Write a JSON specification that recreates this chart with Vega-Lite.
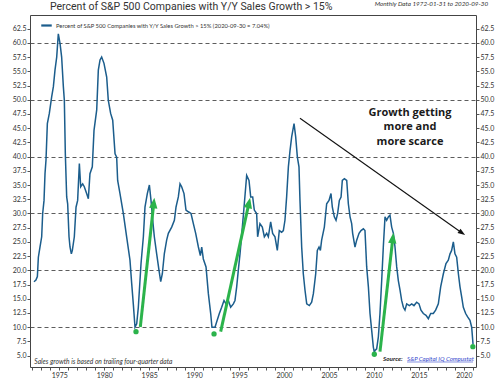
{
  "$schema": "https://vega.github.io/schema/vega-lite/v6.json",
  "width": 446,
  "height": 352,
  "autosize": {"type": "none"},
  "padding": {"left": 30, "top": 15, "right": 24, "bottom": 15},
  "background": "white",
  "config": {
    "view": {"stroke": "#444444", "strokeWidth": 1},
    "axis": {"labelFont": "Lato", "labelFontSize": 7, "labelColor": "#333333", "tickColor": "#555555", "tickSize": 3, "domain": false, "title": null},
    "axisX": {"labelOverlap": false, "labelFlush": false, "labelPadding": 1, "grid": false}
  },
  "datasets": {
    "main": [
      {"t": 1972.18, "v": 18.0}, {"t": 1972.4, "v": 18.3}, {"t": 1972.56, "v": 18.9}, {"t": 1972.67, "v": 22.3}, {"t": 1972.85, "v": 24.1},
      {"t": 1973.04, "v": 25.9}, {"t": 1973.15, "v": 30.0}, {"t": 1973.3, "v": 32.3}, {"t": 1973.41, "v": 37.0}, {"t": 1973.52, "v": 39.4},
      {"t": 1973.67, "v": 45.8}, {"t": 1973.89, "v": 47.6}, {"t": 1974.15, "v": 50.5}, {"t": 1974.34, "v": 52.3}, {"t": 1974.52, "v": 55.2},
      {"t": 1974.71, "v": 57.5}, {"t": 1974.89, "v": 61.6}, {"t": 1975.08, "v": 59.9}, {"t": 1975.26, "v": 57.5}, {"t": 1975.45, "v": 52.3},
      {"t": 1975.56, "v": 49.9}, {"t": 1975.67, "v": 40.5}, {"t": 1975.82, "v": 32.9}, {"t": 1975.93, "v": 31.7}, {"t": 1976.08, "v": 25.9},
      {"t": 1976.19, "v": 24.1}, {"t": 1976.34, "v": 22.9}, {"t": 1976.45, "v": 23.5}, {"t": 1976.67, "v": 25.9}, {"t": 1976.86, "v": 31.1},
      {"t": 1977.04, "v": 32.3}, {"t": 1977.23, "v": 38.8}, {"t": 1977.38, "v": 34.7}, {"t": 1977.6, "v": 35.2}, {"t": 1977.78, "v": 34.7},
      {"t": 1978.04, "v": 33.5}, {"t": 1978.23, "v": 32.6}, {"t": 1978.41, "v": 37.0}, {"t": 1978.67, "v": 38.2}, {"t": 1978.86, "v": 44.6},
      {"t": 1979.16, "v": 48.2}, {"t": 1979.34, "v": 55.2}, {"t": 1979.53, "v": 57.0}, {"t": 1979.71, "v": 57.5}, {"t": 1979.97, "v": 56.4},
      {"t": 1980.27, "v": 54.0}, {"t": 1980.45, "v": 49.9}, {"t": 1980.71, "v": 47.6}, {"t": 1980.94, "v": 46.4}, {"t": 1981.2, "v": 40.5},
      {"t": 1981.38, "v": 39.9}, {"t": 1981.49, "v": 35.8}, {"t": 1981.75, "v": 33.5}, {"t": 1982.12, "v": 30.0}, {"t": 1982.49, "v": 25.9},
      {"t": 1982.86, "v": 21.8}, {"t": 1983.05, "v": 17.7}, {"t": 1983.23, "v": 14.1}, {"t": 1983.42, "v": 10.0}, {"t": 1983.61, "v": 10.6},
      {"t": 1983.79, "v": 13.5}, {"t": 1984.09, "v": 21.2}, {"t": 1984.35, "v": 25.9}, {"t": 1984.53, "v": 31.1}, {"t": 1984.79, "v": 33.5},
      {"t": 1985.02, "v": 35.0}, {"t": 1985.2, "v": 32.3}, {"t": 1985.39, "v": 28.8}, {"t": 1985.57, "v": 25.9}, {"t": 1985.83, "v": 22.9},
      {"t": 1986.09, "v": 20.0}, {"t": 1986.28, "v": 18.0}, {"t": 1986.46, "v": 19.4}, {"t": 1986.68, "v": 22.9}, {"t": 1986.94, "v": 25.3},
      {"t": 1987.13, "v": 26.5}, {"t": 1987.5, "v": 27.6}, {"t": 1987.8, "v": 28.8}, {"t": 1987.98, "v": 31.1}, {"t": 1988.24, "v": 32.9},
      {"t": 1988.43, "v": 35.2}, {"t": 1988.61, "v": 34.7}, {"t": 1988.87, "v": 33.5}, {"t": 1989.09, "v": 30.6}, {"t": 1989.35, "v": 30.3},
      {"t": 1989.65, "v": 30.0}, {"t": 1989.91, "v": 28.2}, {"t": 1990.17, "v": 26.5}, {"t": 1990.47, "v": 24.1}, {"t": 1990.69, "v": 22.6},
      {"t": 1990.84, "v": 24.1}, {"t": 1991.02, "v": 22.0}, {"t": 1991.32, "v": 20.6}, {"t": 1991.58, "v": 15.9}, {"t": 1991.84, "v": 12.4},
      {"t": 1991.98, "v": 10.0}, {"t": 1992.32, "v": 10.0}, {"t": 1992.5, "v": 10.9}, {"t": 1992.8, "v": 12.4}, {"t": 1993.06, "v": 13.5},
      {"t": 1993.32, "v": 14.7}, {"t": 1993.54, "v": 14.1}, {"t": 1993.8, "v": 14.7}, {"t": 1994.06, "v": 13.5}, {"t": 1994.36, "v": 14.1},
      {"t": 1994.54, "v": 14.7}, {"t": 1994.73, "v": 17.1}, {"t": 1994.91, "v": 20.0}, {"t": 1995.1, "v": 22.9}, {"t": 1995.36, "v": 27.6},
      {"t": 1995.58, "v": 31.7}, {"t": 1995.84, "v": 36.7}, {"t": 1996.1, "v": 35.8}, {"t": 1996.29, "v": 32.9}, {"t": 1996.51, "v": 32.9},
      {"t": 1996.69, "v": 30.6}, {"t": 1996.95, "v": 30.0}, {"t": 1997.06, "v": 25.9}, {"t": 1997.32, "v": 28.2}, {"t": 1997.58, "v": 27.6},
      {"t": 1997.81, "v": 25.9}, {"t": 1998.07, "v": 26.5}, {"t": 1998.25, "v": 25.9}, {"t": 1998.51, "v": 28.5}, {"t": 1998.73, "v": 26.5},
      {"t": 1998.99, "v": 25.9}, {"t": 1999.25, "v": 23.5}, {"t": 1999.47, "v": 27.0}, {"t": 1999.73, "v": 26.7}, {"t": 1999.92, "v": 27.0},
      {"t": 2000.1, "v": 28.8}, {"t": 2000.29, "v": 33.0}, {"t": 2000.48, "v": 38.2}, {"t": 2000.66, "v": 41.0}, {"t": 2000.85, "v": 43.5},
      {"t": 2001.11, "v": 45.8}, {"t": 2001.29, "v": 43.5}, {"t": 2001.48, "v": 39.9}, {"t": 2001.66, "v": 38.2}, {"t": 2001.77, "v": 32.3},
      {"t": 2001.96, "v": 24.1}, {"t": 2002.14, "v": 19.4}, {"t": 2002.33, "v": 16.5}, {"t": 2002.52, "v": 14.1}, {"t": 2002.81, "v": 13.8},
      {"t": 2003.07, "v": 14.4}, {"t": 2003.26, "v": 15.9}, {"t": 2003.52, "v": 19.4}, {"t": 2003.7, "v": 23.5}, {"t": 2003.89, "v": 24.1},
      {"t": 2004.04, "v": 23.5}, {"t": 2004.18, "v": 25.3}, {"t": 2004.48, "v": 27.6}, {"t": 2004.74, "v": 31.7}, {"t": 2005.0, "v": 32.3},
      {"t": 2005.22, "v": 33.5}, {"t": 2005.37, "v": 31.1}, {"t": 2005.59, "v": 29.4}, {"t": 2005.78, "v": 28.8}, {"t": 2005.96, "v": 30.0},
      {"t": 2006.15, "v": 32.3}, {"t": 2006.34, "v": 32.9}, {"t": 2006.48, "v": 35.8}, {"t": 2006.71, "v": 36.1}, {"t": 2006.97, "v": 35.8},
      {"t": 2007.15, "v": 31.7}, {"t": 2007.34, "v": 29.4}, {"t": 2007.52, "v": 28.2}, {"t": 2007.63, "v": 26.5}, {"t": 2007.89, "v": 24.1},
      {"t": 2008.08, "v": 25.3}, {"t": 2008.34, "v": 26.5}, {"t": 2008.56, "v": 27.0}, {"t": 2008.82, "v": 27.3}, {"t": 2009.0, "v": 27.0},
      {"t": 2009.19, "v": 20.6}, {"t": 2009.38, "v": 17.1}, {"t": 2009.56, "v": 12.4}, {"t": 2009.75, "v": 9.4}, {"t": 2009.93, "v": 6.5},
      {"t": 2010.04, "v": 5.6}, {"t": 2010.12, "v": 5.9}, {"t": 2010.3, "v": 6.2}, {"t": 2010.49, "v": 8.3}, {"t": 2010.67, "v": 12.4},
      {"t": 2010.86, "v": 18.2}, {"t": 2011.04, "v": 24.1}, {"t": 2011.23, "v": 29.4}, {"t": 2011.41, "v": 28.8}, {"t": 2011.6, "v": 29.4},
      {"t": 2011.78, "v": 29.7}, {"t": 2011.97, "v": 27.6}, {"t": 2012.16, "v": 26.5}, {"t": 2012.34, "v": 24.1}, {"t": 2012.53, "v": 20.6},
      {"t": 2012.71, "v": 18.2}, {"t": 2012.9, "v": 16.5}, {"t": 2013.08, "v": 14.7}, {"t": 2013.27, "v": 13.5}, {"t": 2013.45, "v": 13.0},
      {"t": 2013.64, "v": 14.1}, {"t": 2013.94, "v": 13.8}, {"t": 2014.2, "v": 14.1}, {"t": 2014.45, "v": 13.8}, {"t": 2014.75, "v": 14.4},
      {"t": 2015.01, "v": 14.1}, {"t": 2015.23, "v": 13.0}, {"t": 2015.49, "v": 12.4}, {"t": 2015.79, "v": 12.1}, {"t": 2016.05, "v": 11.5},
      {"t": 2016.31, "v": 12.4}, {"t": 2016.6, "v": 12.4}, {"t": 2016.86, "v": 13.0}, {"t": 2017.16, "v": 14.1}, {"t": 2017.42, "v": 17.1},
      {"t": 2017.72, "v": 19.4}, {"t": 2018.01, "v": 21.2}, {"t": 2018.27, "v": 21.8}, {"t": 2018.46, "v": 22.9}, {"t": 2018.64, "v": 23.5},
      {"t": 2018.83, "v": 25.0}, {"t": 2019.01, "v": 22.9}, {"t": 2019.2, "v": 22.3}, {"t": 2019.39, "v": 19.4}, {"t": 2019.57, "v": 17.1},
      {"t": 2019.76, "v": 15.3}, {"t": 2019.94, "v": 13.5}, {"t": 2020.2, "v": 12.4}, {"t": 2020.42, "v": 11.8}, {"t": 2020.68, "v": 11.2},
      {"t": 2020.87, "v": 10.0}, {"t": 2021.02, "v": 7.0}
    ],
    "arrows": [
      {"t": 1984.01, "v": 10.04, "t2": 1985.51, "v2": 31.84},
      {"t": 1992.95, "v": 9.21, "t2": 1996.1, "v2": 31.86},
      {"t": 2010.67, "v": 5.69, "t2": 2012.1, "v2": 25.69}
    ],
    "heads": [
      {"t": 1985.51, "v": 31.84, "a": 6.2},
      {"t": 1996.1, "v": 31.86, "a": 12.4},
      {"t": 2012.1, "v": 25.69, "a": 6.4}
    ],
    "dots": [
      {"t": 1983.53, "v": 9.21}, {"t": 1992.21, "v": 8.81}, {"t": 2010.04, "v": 5.24}, {"t": 2021.0, "v": 6.57}
    ],
    "trend": [{"t": 2001.77, "v": 46.74, "t2": 2019.8, "v2": 26.57}],
    "trendhead": [{"t": 2019.8, "v": 26.57, "a": 125.3}],
    "growth": [
      {"t": 2014.01, "v": 47.72, "label": "Growth getting"},
      {"t": 2014.01, "v": 45.15, "label": "more and"},
      {"t": 2014.01, "v": 42.62, "label": "more scarce"}
    ],
    "heading": [{"t": 1973.96, "v": 66.3, "label": "Percent of S&P 500 Companies with Y/Y Sales Growth > 15%"}],
    "footnote": [{"t": 1972.22, "v": 3.94, "label": "Sales growth is based on trailing four-quarter data"}],
    "source": [{"t": 2011.01, "v": 4.36, "label": "Source:"}],
    "link": [{"t": 2013.68, "v": 4.36, "label": "S&P Capital IQ Compustat"}],
    "underline": [{"t": 2013.68, "v": 3.88, "t2": 2021.02}],
    "topnote": [{"t": 2022.69, "v": 66.78, "label": "Monthly Data 1972-01-31 to 2020-09-30"}]
  },
  "layer": [
    {
      "data": {"name": "main"},
      "mark": {"type": "line", "strokeWidth": 1.5, "interpolate": "linear"},
      "encoding": {
        "x": {"field": "t", "type": "quantitative", "scale": {"domain": [1971.74, 2021.35], "nice": false, "zero": false},
          "axis": {"values": [1972,1973,1974,1975,1976,1977,1978,1979,1980,1981,1982,1983,1984,1985,1986,1987,1988,1989,1990,1991,1992,1993,1994,1995,1996,1997,1998,1999,2000,2001,2002,2003,2004,2005,2006,2007,2008,2009,2010,2011,2012,2013,2014,2015,2016,2017,2018,2019,2020,2021],
            "format": "d", "labelExpr": "datum.value % 5 === 0 ? datum.label : ''", "labelOverlap": false}},
        "y": {"field": "v", "type": "quantitative", "scale": {"domain": [3, 64.9], "nice": false, "zero": false},
          "axis": {"orient": "left", "values": [5,7.5,10,12.5,15,17.5,20,22.5,25,27.5,30,32.5,35,37.5,40,42.5,45,47.5,50,52.5,55,57.5,60,62.5],
            "format": ".1f", "labelPadding": 1, "labelOverlap": false, "grid": true, "gridDash": [4, 3], "gridColor": "#333333", "gridWidth": 0.8,
            "gridOpacity": {"condition": {"test": "datum.value % 10 === 0", "value": 1}, "value": 0}}},
        "color": {"datum": "Percent of S&P 500 Companies with Y/Y Sales Growth > 15% (2020-09-30 = 7.04%)", "type": "nominal",
          "scale": {"range": ["#1b5d8c"]},
          "legend": {"orient": "none", "legendX": 10, "legendY": 4, "title": null, "symbolType": "stroke", "symbolSize": 110, "symbolStrokeWidth": 2.2,
            "labelFont": "Lato", "labelFontSize": 5.8, "labelColor": "#333333", "labelOffset": 3, "labelLimit": 400}}
      }
    },
    {
      "data": {"name": "main"},
      "mark": {"type": "line", "opacity": 0},
      "encoding": {
        "x": {"field": "t", "type": "quantitative", "scale": {"domain": [1971.74, 2021.35], "nice": false, "zero": false},
          "axis": {"values": [1972,1973,1974,1975,1976,1977,1978,1979,1980,1981,1982,1983,1984,1985,1986,1987,1988,1989,1990,1991,1992,1993,1994,1995,1996,1997,1998,1999,2000,2001,2002,2003,2004,2005,2006,2007,2008,2009,2010,2011,2012,2013,2014,2015,2016,2017,2018,2019,2020,2021],
            "format": "d", "labelExpr": "datum.value % 5 === 0 ? datum.label : ''", "labelOverlap": false}},
        "y": {"field": "v", "type": "quantitative", "scale": {"domain": [3, 64.9], "nice": false, "zero": false},
          "axis": {"orient": "right", "values": [5,7.5,10,12.5,15,17.5,20,22.5,25,27.5,30,32.5,35,37.5,40,42.5,45,47.5,50,52.5,55,57.5,60,62.5],
            "format": ".1f", "labelPadding": 1, "labelOverlap": false, "grid": false}}
      }
    },
    {
      "layer": [
        {
          "data": {"name": "arrows"},
          "mark": {"type": "rule", "color": "#2bb34b", "strokeWidth": 3},
          "encoding": {"x2": {"field": "t2"}, "y2": {"field": "v2"}}
        },
        {
          "data": {"name": "heads"},
          "mark": {"type": "point", "filled": true, "opacity": 1, "color": "#2bb34b", "shape": "M -0.8 1 L 0 -1 L 0.8 1 Z", "size": 110},
          "encoding": {"angle": {"field": "a", "type": "quantitative", "scale": null}}
        },
        {
          "data": {"name": "dots"},
          "mark": {"type": "point", "filled": true, "opacity": 1, "color": "#2bb34b", "shape": "circle", "size": 28}
        },
        {
          "data": {"name": "trend"},
          "mark": {"type": "rule", "color": "#111111", "strokeWidth": 1.1},
          "encoding": {"x2": {"field": "t2"}, "y2": {"field": "v2"}}
        },
        {
          "data": {"name": "trendhead"},
          "mark": {"type": "point", "filled": true, "opacity": 1, "color": "#111111", "shape": "M -0.7 1 L 0 -1 L 0.7 1 Z", "size": 55},
          "encoding": {"angle": {"field": "a", "type": "quantitative", "scale": null}}
        },
        {
          "data": {"name": "growth"},
          "mark": {"type": "text", "font": "Open Sans", "fontWeight": "bold", "fontSize": 11, "color": "#1a1a1a", "align": "center", "baseline": "middle"},
          "encoding": {"text": {"field": "label"}}
        },
        {
          "data": {"name": "heading"},
          "mark": {"type": "text", "font": "Roboto", "fontSize": 10.5, "color": "#333333", "align": "left", "baseline": "middle"},
          "encoding": {"text": {"field": "label"}}
        },
        {
          "data": {"name": "footnote"},
          "mark": {"type": "text", "font": "Lato", "fontStyle": "italic", "fontSize": 6.7, "color": "#333333", "align": "left", "baseline": "middle"},
          "encoding": {"text": {"field": "label"}}
        },
        {
          "data": {"name": "source"},
          "mark": {"type": "text", "font": "Lato", "fontStyle": "italic", "fontWeight": "bold", "fontSize": 6.3, "color": "#222222", "align": "left", "baseline": "middle"},
          "encoding": {"text": {"field": "label"}}
        },
        {
          "data": {"name": "link"},
          "mark": {"type": "text", "font": "Lato", "fontStyle": "italic", "fontSize": 6.1, "color": "#3344cc", "align": "left", "baseline": "middle"},
          "encoding": {"text": {"field": "label"}}
        },
        {
          "data": {"name": "underline"},
          "mark": {"type": "rule", "color": "#3344cc", "strokeWidth": 0.6},
          "encoding": {"x2": {"field": "t2"}}
        },
        {
          "data": {"name": "topnote"},
          "mark": {"type": "text", "font": "Lato", "fontStyle": "italic", "fontSize": 6.3, "color": "#333333", "align": "right", "baseline": "middle"},
          "encoding": {"text": {"field": "label"}}
        }
      ],
      "encoding": {
        "x": {"field": "t", "type": "quantitative", "scale": {"domain": [1971.74, 2021.35], "nice": false, "zero": false},
          "axis": {"values": [1972,1973,1974,1975,1976,1977,1978,1979,1980,1981,1982,1983,1984,1985,1986,1987,1988,1989,1990,1991,1992,1993,1994,1995,1996,1997,1998,1999,2000,2001,2002,2003,2004,2005,2006,2007,2008,2009,2010,2011,2012,2013,2014,2015,2016,2017,2018,2019,2020,2021],
            "format": "d", "labelExpr": "datum.value % 5 === 0 ? datum.label : ''", "labelOverlap": false}},
        "y": {"field": "v", "type": "quantitative", "scale": {"domain": [3, 64.9], "nice": false, "zero": false}, "axis": null}
      }
    }
  ],
  "resolve": {"axis": {"y": "independent"}}
}
